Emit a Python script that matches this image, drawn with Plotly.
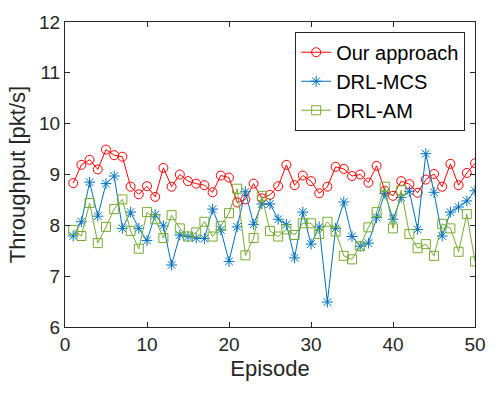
import plotly.graph_objects as go

episodes = list(range(1, 51))
our_approach = [8.83, 9.19, 9.29, 9.10, 9.49, 9.38, 9.35, 8.76, 8.61, 8.77,
                8.56, 9.13, 8.76, 9.00, 8.87, 8.82, 8.79, 8.65, 8.98, 8.94,
                8.45, 8.51, 8.82, 8.53, 8.60, 8.77, 9.19, 8.79, 8.98, 8.87,
                8.63, 8.76, 9.15, 9.11, 8.97, 9.00, 8.84, 9.17, 8.68, 8.58,
                8.87, 8.81, 8.64, 8.90, 9.01, 8.76, 9.21, 8.79, 9.03, 9.22]
drl_mcs = [7.79, 8.07, 8.85, 8.18, 8.82, 8.97, 7.94, 8.26, 7.94, 7.70,
           8.21, 7.99, 7.22, 7.81, 7.78, 7.75, 7.74, 8.32, 7.91, 7.29,
           7.97, 8.66, 8.02, 8.42, 8.42, 8.12, 8.02, 7.36, 8.26, 7.63,
           7.97, 6.49, 7.94, 8.46, 7.78, 7.59, 7.65, 8.15, 8.63, 8.12,
           8.55, 8.67, 7.92, 9.41, 8.65, 7.79, 8.26, 8.36, 8.48, 8.68]
drl_am = [7.91, 7.79, 8.44, 7.65, 7.97, 8.32, 8.51, 7.89, 7.54, 8.26,
          8.12, 7.75, 8.20, 7.94, 7.78, 7.86, 8.07, 7.78, 7.99, 8.24,
          8.72, 7.41, 7.75, 8.58, 7.89, 7.78, 7.92, 7.81, 8.04, 8.04,
          7.83, 8.07, 7.88, 7.40, 7.33, 7.59, 7.96, 8.26, 8.76, 7.94,
          8.69, 7.83, 7.55, 7.63, 7.40, 8.03, 7.94, 7.48, 8.22, 7.29]

x_ticks = [0, 10, 20, 30, 40, 50]
y_ticks = [6, 7, 8, 9, 10, 11, 12]

series = [
    ("Our approach", our_approach, "#FF0000", "circle-open"),
    ("DRL-MCS", drl_mcs, "#0072BD", "asterisk-open"),
    ("DRL-AM", drl_am, "#77AC30", "square-open"),
]

fig = go.Figure()
for name, vals, color, sym in series:
    fig.add_trace(go.Scatter(
        x=episodes, y=vals, name=name, mode="lines+markers",
        line=dict(color=color, width=1),
        marker=dict(symbol=sym, size=9, color=color, line=dict(color=color, width=1)),
    ))

axis_common = dict(
    showline=True, linecolor="#262626", linewidth=1, mirror="ticks",
    ticks="inside", ticklen=5, tickcolor="#262626", tickwidth=1,
    showgrid=False, zeroline=False,
    tickfont=dict(size=19, color="#262626"),
)

fig.update_layout(
    width=498, height=395,
    margin=dict(l=65, r=12, t=14, b=68),
    paper_bgcolor="white", plot_bgcolor="white",
    font=dict(family="Liberation Sans, Arial, sans-serif", color="#262626"),
    xaxis=dict(range=[0, 50], tickvals=x_ticks,
               title=dict(text="Episode", font=dict(size=22, color="#262626"), standoff=6),
               **axis_common),
    yaxis=dict(range=[6, 12], tickvals=y_ticks,
               title=dict(text="Throughput [pkt/s]", font=dict(size=22, color="#262626"), standoff=7),
               **axis_common),
    legend=dict(
        x=0.976, y=0.968, xanchor="right", yanchor="top",
        bgcolor="white", bordercolor="#262626", borderwidth=1,
        font=dict(size=20, color="black"),
        tracegroupgap=0,
    ),
    showlegend=True,
)

fig.write_html("out.html")
